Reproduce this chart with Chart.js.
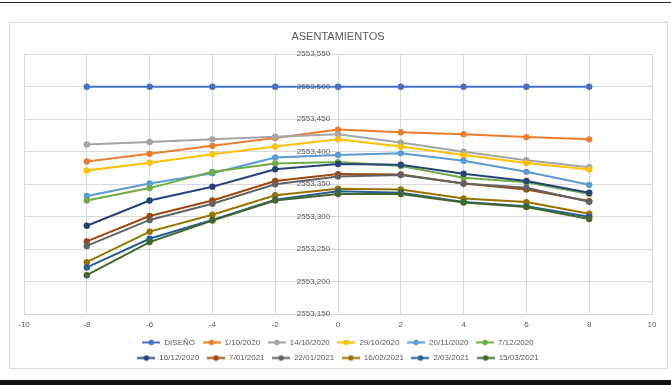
<!DOCTYPE html>
<html lang="es">
<head>
    <meta charset="UTF-8">
    <title>Asentamientos</title>
    <script src="https://cdn.jsdelivr.net/npm/chart.js"></script>
    <style>
        body { margin: 0; background: #fff; }
        .wrap { position: relative; width: 671px; height: 385px; }
        .rule-top { position: absolute; left: 0; top: 2px; width: 671px; height: 1px; background: #222; }
        .rule-bottom { position: absolute; left: 0; top: 380px; width: 671px; height: 5px; background: #111; }
        .frame { position: absolute; left: 9px; top: 22px; width: 657px; height: 345px; border: 1px solid #d9d9d9; }
        canvas { position: absolute; left: 0; top: 0; }
    </style>
</head>
<body>
<div class="wrap">
    <div class="rule-top"></div>
    <div class="frame"></div>
    <div class="rule-bottom"></div>
    <canvas id="chart" width="671" height="385"></canvas>
</div>

<script>
    // distances along the section (x)
    const positions = [-8, -6, -4, -2, 0, 2, 4, 6, 8];

    const seriesNames = ["DISEÑO", "1/10/2020", "14/10/2020", "29/10/2020", "20/11/2020", "7/12/2020",
        "16/12/2020", "7/01/2021", "22/01/2021", "16/02/2021", "2/03/2021", "15/03/2021"];

    const diseno   = [2553.500, 2553.500, 2553.500, 2553.500, 2553.500, 2553.500, 2553.500, 2553.500, 2553.500];
    const d01oct20 = [2553.385, 2553.397, 2553.409, 2553.421, 2553.434, 2553.430, 2553.427, 2553.4225, 2553.419];
    const d14oct20 = [2553.411, 2553.415, 2553.419, 2553.423, 2553.427, 2553.414, 2553.400, 2553.387, 2553.376];
    const d29oct20 = [2553.371, 2553.383, 2553.396, 2553.408, 2553.419, 2553.408, 2553.395, 2553.3825, 2553.3725];
    const d20nov20 = [2553.332, 2553.351, 2553.367, 2553.391, 2553.395, 2553.3975, 2553.386, 2553.369, 2553.349];
    const d07dic20 = [2553.325, 2553.344, 2553.369, 2553.382, 2553.384, 2553.378, 2553.360, 2553.353, 2553.335];
    const d16dic20 = [2553.286, 2553.325, 2553.346, 2553.373, 2553.381, 2553.380, 2553.366, 2553.355, 2553.337];
    const d07ene21 = [2553.262, 2553.301, 2553.325, 2553.355, 2553.3655, 2553.365, 2553.351, 2553.342, 2553.324];
    const d22ene21 = [2553.255, 2553.295, 2553.320, 2553.350, 2553.362, 2553.364, 2553.351, 2553.3445, 2553.323];
    const d16feb21 = [2553.230, 2553.277, 2553.303, 2553.333, 2553.343, 2553.342, 2553.328, 2553.3225, 2553.3045];
    const d02mar21 = [2553.222, 2553.266, 2553.295, 2553.326, 2553.339, 2553.337, 2553.3225, 2553.316, 2553.300];
    const d15mar21 = [2553.210, 2553.261, 2553.294, 2553.325, 2553.335, 2553.335, 2553.322, 2553.315, 2553.2965];

    const seriesValues = [diseno, d01oct20, d14oct20, d29oct20, d20nov20, d07dic20,
        d16dic20, d07ene21, d22ene21, d16feb21, d02mar21, d15mar21];

    const colors = ["#4472C4", "#ED7D31", "#A5A5A5", "#FFC000", "#5B9BD5", "#70AD47",
        "#264478", "#9E480E", "#636363", "#997300", "#255E91", "#43682B"];

    const FONT = "'Liberation Sans', Arial, sans-serif";
    const TEXT = "#595959";
    const GRID = "#d9d9d9";
    const LEGEND_WIDTH = 460;

    // small line + dot image for the legend, like Excel
    function legendIcon(color) {
        const c = document.createElement("canvas");
        c.width = 18;
        c.height = 7;
        const g = c.getContext("2d");
        g.strokeStyle = color;
        g.lineWidth = 2;
        g.beginPath();
        g.moveTo(0, 3.5);
        g.lineTo(18, 3.5);
        g.stroke();
        g.fillStyle = color;
        g.beginPath();
        g.arc(9, 3.5, 2.8, 0, Math.PI * 2);
        g.fill();
        return c;
    }

    // keep the legend in two rows of six, a bit closer to the axis
    const legendRows = {
        id: "legendRows",
        afterInit(chart) {
            const lg = chart.legend;
            const fit = lg.fit;
            lg.fit = function () {
                const full = this.maxWidth;
                this.maxWidth = LEGEND_WIDTH;
                fit.call(this);
                this.maxWidth = full;
                this.width = full;
            };
        },
        afterLayout(chart) {
            const lg = chart.legend;
            const mid = (lg.left + lg.right) / 2;
            lg.left = mid - LEGEND_WIDTH / 2;
            lg.right = mid + LEGEND_WIDTH / 2;
            lg.top -= 5;
            lg.bottom -= 5;
        }
    };

    const datasets = seriesNames.map((name, i) => ({
        label: name,
        data: positions.map((x, j) => ({ x: x, y: seriesValues[i][j] })),
        showLine: true,
        borderColor: colors[i],
        backgroundColor: colors[i],
        borderWidth: 2,
        pointRadius: 3.2,
        pointBorderWidth: 0,
        order: seriesNames.length - i
    }));

    new Chart(document.getElementById("chart").getContext("2d"), {
        type: "scatter",
        data: { datasets: datasets },
        plugins: [legendRows],
        options: {
            responsive: false,
            animation: false,
            layout: { padding: { left: 24, right: 19, top: 0, bottom: 8 } },
            scales: {
                x: {
                    type: "linear",
                    position: "bottom",
                    min: -10,
                    max: 10,
                    ticks: { stepSize: 2, color: TEXT, font: { family: FONT, size: 8 }, padding: 6 },
                    grid: { color: GRID, drawTicks: false },
                    border: { color: GRID }
                },
                y: {
                    // labels sit just left of the x = 0 line
                    position: { x: -0.25 },
                    min: 2553.15,
                    max: 2553.55,
                    ticks: {
                        stepSize: 0.05,
                        color: TEXT,
                        font: { family: FONT, size: 8 },
                        callback: v => v.toFixed(3).replace(".", ",")
                    },
                    grid: { color: GRID, drawTicks: false },
                    border: { display: false }
                }
            },
            plugins: {
                title: {
                    display: true,
                    text: "ASENTAMIENTOS",
                    color: TEXT,
                    font: { family: FONT, size: 11, weight: "normal" },
                    padding: { top: 30, bottom: 11 }
                },
                legend: {
                    position: "bottom",
                    labels: {
                        usePointStyle: true,
                        pointStyleWidth: 18,
                        padding: 7.6,
                        color: TEXT,
                        font: { family: FONT, size: 8 },
                        generateLabels(chart) {
                            const items = Chart.defaults.plugins.legend.labels.generateLabels(chart);
                            items.sort((a, b) => a.datasetIndex - b.datasetIndex);
                            items.forEach(it => { it.pointStyle = legendIcon(colors[it.datasetIndex]); });
                            return items;
                        }
                    }
                },
                tooltip: { enabled: false }
            }
        }
    });
</script>
</body>
</html>
